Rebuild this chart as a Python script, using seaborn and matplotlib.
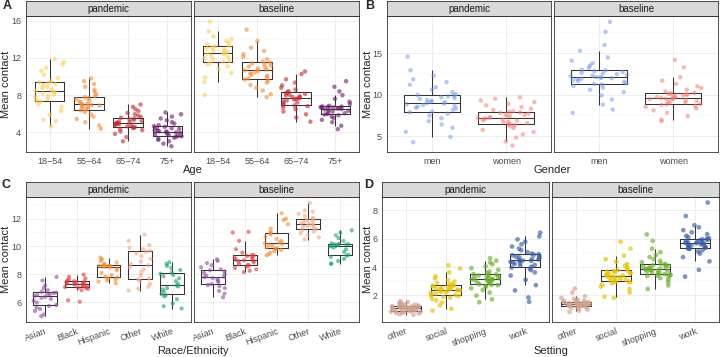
import numpy as np
import pandas as pd
import matplotlib.pyplot as plt
import seaborn as sns

# --- DATA (mean contacts) ---
PERIODS = ['pandemic', 'baseline']

# A: age
AGE_GROUPS = ['18\u221254', '55\u221264', '65\u221274', '75+']
age_pan_1854 = [4.65, 5.2, 5.35, 5.9, 6.3, 6.75, 7.05, 7.34, 7.41, 7.62, 7.8, 7.93, 8.08, 8.19, 8.31, 8.42,
                8.48, 8.63, 8.77, 8.9, 9.05, 9.17, 9.28, 9.4, 9.5, 9.85, 10.2, 10.6, 10.95, 11.3, 11.55, 11.85]
age_pan_5564 = [4.4, 4.75, 5.1, 5.45, 5.7, 5.95, 6.2, 6.37, 6.45, 6.58, 6.66, 6.74, 6.81, 6.88, 6.93, 6.98,
                7.02, 7.1, 7.21, 7.33, 7.45, 7.56, 7.68, 7.78, 7.9, 8.1, 8.35, 8.6, 8.9, 9.2, 9.5, 9.8]
age_pan_6574 = [3.05, 3.5, 3.85, 4.1, 4.25, 4.38, 4.47, 4.53, 4.58, 4.66, 4.72, 4.8, 4.86, 4.91, 4.95, 4.99,
                5.03, 5.1, 5.18, 5.25, 5.33, 5.41, 5.5, 5.58, 5.66, 5.8, 5.95, 6.1, 6.3, 6.5, 6.75, 7.0]
age_pan_75 = [2.52, 2.8, 3.05, 3.2, 3.33, 3.44, 3.52, 3.58, 3.63, 3.7, 3.78, 3.86, 3.93, 3.99, 4.04, 4.08,
              4.12, 4.2, 4.28, 4.37, 4.45, 4.53, 4.61, 4.68, 4.78, 4.95, 5.1, 5.3, 5.5, 5.7, 5.95, 6.15]
age_base_1854 = [8.03, 9.42, 9.9, 10.4, 10.8, 11.1, 11.3, 11.47, 11.54, 11.7, 11.85, 11.98, 12.1, 12.22, 12.35, 12.46,
                 12.54, 12.63, 12.72, 12.8, 12.9, 13.0, 13.1, 13.22, 13.3, 13.45, 13.62, 13.8, 14.0, 14.3, 14.86, 15.9]
age_base_5564 = [7.79, 8.1, 8.5, 8.8, 9.1, 9.35, 9.55, 9.68, 9.78, 9.92, 10.08, 10.2, 10.35, 10.46, 10.58, 10.66,
                 10.74, 10.85, 10.96, 11.07, 11.18, 11.3, 11.41, 11.5, 11.62, 11.85, 12.1, 12.4, 12.75, 13.1, 13.82, 15.04]
age_base_6574 = [5.15, 5.6, 5.95, 6.25, 6.5, 6.68, 6.82, 6.9, 6.97, 7.1, 7.22, 7.33, 7.44, 7.53, 7.61, 7.68,
                 7.74, 7.81, 7.89, 7.97, 8.05, 8.13, 8.22, 8.32, 8.42, 8.6, 8.8, 9.05, 9.35, 9.7, 10.27, 10.55]
age_base_75 = [4.35, 4.72, 5.1, 5.35, 5.55, 5.7, 5.84, 5.92, 5.98, 6.07, 6.16, 6.25, 6.33, 6.4, 6.46, 6.51,
               6.56, 6.6, 6.64, 6.68, 6.72, 6.75, 6.78, 6.8, 6.86, 7.05, 7.3, 7.6, 8.0, 8.4, 8.9, 9.5]

# B: gender
GENDERS = ['men', 'women']
gen_pan_men = [4.25, 4.9, 5.5, 6.0, 6.4, 6.8, 7.15, 7.45, 7.7, 7.88, 7.95, 8.15, 8.3, 8.42, 8.55, 8.66, 8.75, 8.84,
               8.93, 9.0, 9.06, 9.15, 9.25, 9.36, 9.47, 9.58, 9.69, 9.8, 9.9, 9.98, 10.05, 10.3, 10.6, 10.9, 11.2,
               11.5, 11.85, 12.3, 12.95, 14.6]
gen_pan_women = [3.85, 4.35, 4.8, 5.2, 5.5, 5.75, 5.98, 6.15, 6.3, 6.4, 6.47, 6.55, 6.65, 6.75, 6.84, 6.92, 7.0,
                 7.07, 7.12, 7.16, 7.2, 7.27, 7.35, 7.44, 7.53, 7.62, 7.71, 7.8, 7.87, 7.93, 8.0, 8.15, 8.3, 8.5,
                 8.7, 8.9, 9.1, 9.3, 9.5, 9.68]
gen_base_men = [7.8, 8.2, 8.8, 9.4, 9.9, 10.3, 10.6, 10.85, 11.05, 11.22, 11.3, 11.42, 11.55, 11.65, 11.75, 11.84,
                11.92, 11.99, 12.05, 12.08, 12.12, 12.2, 12.29, 12.38, 12.47, 12.56, 12.65, 12.74, 12.84, 12.93,
                13.0, 13.25, 13.5, 13.8, 14.1, 14.5, 15.3, 16.0, 17.6, 18.8]
gen_base_women = [6.8, 6.97, 7.4, 7.8, 8.1, 8.35, 8.52, 8.66, 8.77, 8.84, 8.9, 8.98, 9.07, 9.16, 9.25, 9.33, 9.4,
                  9.46, 9.51, 9.54, 9.58, 9.63, 9.7, 9.77, 9.84, 9.91, 9.98, 10.05, 10.11, 10.16, 10.22, 10.4,
                  10.6, 10.8, 11.0, 11.3, 11.7, 12.1, 13.3, 14.2]

# C: race/ethnicity
RACES = ['Asian', 'Black', 'Hispanic', 'Other', 'White']
race_pan_asian = [4.97, 5.1, 5.35, 5.5, 5.6, 5.72, 5.78, 5.95, 6.1, 6.22, 6.3, 6.38,
                  6.44, 6.5, 6.55, 6.6, 6.65, 6.68, 6.74, 6.85, 7.0, 7.2, 7.55, 7.8]
race_pan_black = [6.02, 6.12, 6.85, 6.95, 7.0, 7.04, 7.08, 7.13, 7.18, 7.22, 7.26, 7.29,
                  7.31, 7.34, 7.37, 7.41, 7.44, 7.47, 7.5, 7.55, 7.62, 7.7, 7.82, 7.97]
race_pan_hisp = [7.35, 7.48, 7.55, 7.62, 7.7, 7.76, 7.82, 7.95, 8.1, 8.28, 8.42, 8.5,
                 8.54, 8.56, 8.58, 8.6, 8.62, 8.63, 8.66, 8.75, 8.85, 8.95, 9.08, 9.2]
race_pan_other = [6.82, 6.95, 7.1, 7.3, 7.5, 7.62, 7.7, 7.9, 8.15, 8.35, 8.5, 8.65,
                  8.73, 8.9, 9.1, 9.3, 9.5, 9.62, 9.7, 9.8, 9.9, 10.1, 10.4, 10.85]
race_pan_white = [5.53, 5.7, 5.9, 6.2, 6.4, 6.5, 6.58, 6.75, 6.9, 7.0, 7.12, 7.2,
                  7.3, 7.5, 7.7, 7.85, 7.95, 8.04, 8.12, 8.3, 8.45, 8.6, 8.75, 8.86]
race_base_asian = [6.34, 6.6, 6.8, 7.0, 7.15, 7.22, 7.3, 7.42, 7.55, 7.65, 7.72, 7.78,
                   7.82, 7.9, 8.0, 8.1, 8.2, 8.28, 8.35, 8.5, 8.65, 8.8, 8.95, 9.07]
race_base_black = [8.15, 8.25, 8.35, 8.45, 8.55, 8.62, 8.68, 8.75, 8.85, 8.92, 8.97, 9.01,
                   9.05, 9.1, 9.17, 9.24, 9.3, 9.35, 9.4, 9.55, 9.8, 10.4, 11.0, 11.05]
race_base_hisp = [9.36, 9.45, 9.55, 9.65, 9.75, 9.82, 9.88, 9.95, 10.05, 10.12, 10.18, 10.22,
                  10.28, 10.4, 10.55, 10.7, 10.85, 10.98, 11.05, 11.3, 11.6, 11.9, 12.0, 12.38]
race_base_other = [10.5, 10.65, 10.8, 10.95, 11.08, 11.18, 11.24, 11.32, 11.4, 11.48, 11.54, 11.58,
                   11.62, 11.68, 11.75, 11.83, 11.9, 11.98, 12.05, 12.2, 12.35, 12.5, 12.6, 13.15]
race_base_white = [8.74, 8.78, 8.95, 9.1, 9.25, 9.33, 9.4, 9.6, 9.8, 9.92, 10.0, 10.04,
                   10.08, 10.1, 10.13, 10.15, 10.17, 10.19, 10.22, 10.4, 10.6, 10.8, 11.0, 11.16]

# D: setting
SETTINGS = ['other', 'social', 'shopping', 'work']
set_pan_other = [0.64, 0.68, 0.72, 0.75, 0.78, 0.8, 0.83, 0.85, 0.87, 0.88, 0.9, 0.93, 0.95, 0.98, 1.0, 1.02,
                 1.04, 1.05, 1.06, 1.07, 1.09, 1.1, 1.12, 1.14, 1.16, 1.18, 1.2, 1.22, 1.23, 1.24, 1.26, 1.28,
                 1.31, 1.34, 1.37, 1.4, 1.44, 1.48, 1.53, 1.58]
set_pan_social = [0.92, 1.06, 1.3, 1.5, 1.65, 1.76, 1.84, 1.9, 1.95, 1.99, 2.03, 2.08, 2.13, 2.18, 2.22, 2.26,
                  2.3, 2.33, 2.36, 2.37, 2.39, 2.42, 2.45, 2.48, 2.52, 2.56, 2.6, 2.63, 2.67, 2.7, 2.73, 2.8,
                  2.88, 2.97, 3.08, 3.2, 3.35, 3.62, 3.9, 4.12]
set_pan_shop = [1.52, 1.72, 1.98, 2.2, 2.38, 2.5, 2.6, 2.67, 2.71, 2.74, 2.78, 2.83, 2.88, 2.93, 2.98, 3.02,
                3.06, 3.09, 3.11, 3.12, 3.14, 3.17, 3.2, 3.24, 3.28, 3.32, 3.36, 3.4, 3.44, 3.47, 3.5, 3.58,
                3.68, 3.8, 3.92, 4.05, 4.2, 4.32, 4.45, 4.62]
set_pan_work = [1.55, 1.85, 2.35, 2.72, 3.1, 3.4, 3.62, 3.78, 3.88, 3.96, 4.02, 4.08, 4.15, 4.21, 4.27, 4.32,
                4.37, 4.41, 4.44, 4.46, 4.49, 4.53, 4.58, 4.63, 4.68, 4.73, 4.78, 4.83, 4.87, 4.91, 4.95, 5.05,
                5.18, 5.3, 5.45, 5.6, 5.78, 5.95, 6.16, 6.42]
set_base_other = [0.82, 0.92, 1.0, 1.07, 1.12, 1.16, 1.19, 1.22, 1.24, 1.25, 1.27, 1.29, 1.31, 1.33, 1.35, 1.36,
                  1.38, 1.39, 1.4, 1.41, 1.42, 1.43, 1.45, 1.46, 1.48, 1.49, 1.51, 1.52, 1.53, 1.54, 1.56, 1.59,
                  1.62, 1.66, 1.7, 1.75, 1.82, 1.93, 2.2, 2.48]
set_base_social = [1.82, 1.9, 2.2, 2.45, 2.62, 2.75, 2.84, 2.91, 2.95, 2.98, 3.02, 3.07, 3.12, 3.17, 3.22, 3.26,
                   3.3, 3.33, 3.36, 3.38, 3.4, 3.43, 3.47, 3.51, 3.55, 3.59, 3.63, 3.67, 3.71, 3.75, 3.79, 3.88,
                   3.98, 4.1, 4.22, 4.38, 4.55, 4.8, 5.3, 5.78]
set_base_shop = [2.45, 2.7, 2.92, 3.1, 3.22, 3.3, 3.36, 3.4, 3.43, 3.45, 3.49, 3.54, 3.59, 3.64, 3.68, 3.72,
                 3.76, 3.79, 3.81, 3.83, 3.85, 3.88, 3.92, 3.96, 4.0, 4.04, 4.08, 4.12, 4.16, 4.2, 4.24, 4.33,
                 4.44, 4.56, 4.7, 4.85, 5.05, 5.3, 5.85, 6.3]
set_base_work = [3.32, 3.8, 4.4, 4.7, 4.95, 5.1, 5.2, 5.27, 5.31, 5.33, 5.36, 5.4, 5.44, 5.48, 5.52, 5.56,
                 5.6, 5.63, 5.65, 5.66, 5.68, 5.71, 5.74, 5.77, 5.8, 5.84, 5.88, 5.92, 5.96, 5.99, 6.03, 6.1,
                 6.2, 6.32, 6.45, 6.6, 6.8, 6.95, 7.6, 8.55]

AGE_COLORS = ['#FDCF58', '#F58A37', '#C12A2E', '#6A1B69']
GENDER_COLORS = ['#6F93E8', '#F4776B']
RACE_COLORS = ['#8E4D9E', '#E0393B', '#F4892F', '#F4A582', '#1B9E77']
SETTING_COLORS = ['#D4A194', '#E6C100', '#6AAF2E', '#3A5BA9']

W, H = 720, 357
STRIP_H = 15
BORDER = '#333333'


def frac(x, y, w, h):
    # pixel box (top-left origin) -> figure fraction rect
    return [x / W, 1 - (y + h) / H, w / W, h / H]


def long_frame(groups, series):
    rows = [(g, v) for g, vals in zip(groups, series) for v in vals]
    return pd.DataFrame(rows, columns=['group', 'value'])


def draw_panel(fig, letter, letter_xy, lefts, width, top, bottom, groups, colors, data,
               ylim, major, minor, xlabel, ylab_x, rotate=False, alpha=0.6, size=3.2):
    for i, (period, series) in enumerate(zip(PERIODS, data)):
        ax = fig.add_axes(frac(lefts[i], top + STRIP_H, width, bottom - top - STRIP_H))
        df = long_frame(groups, series)
        sns.stripplot(data=df, x='group', y='value', hue='group', order=groups,
                      hue_order=groups, palette=colors, jitter=0.38, size=size,
                      alpha=alpha, linewidth=0, legend=False, ax=ax)
        sns.boxplot(data=df, x='group', y='value', order=groups, fill=False,
                    color=BORDER, width=0.75, showfliers=False, showcaps=False,
                    linewidth=0.75, ax=ax)
        ax.set_xlim(-0.6, len(groups) - 0.4)
        ax.set_ylim(*ylim)
        ax.set_yticks(major, labels=[f'{t:g}' for t in major])
        ax.set_yticks(minor, minor=True)
        ax.set_xticks(range(len(groups)))
        if rotate:
            ax.set_xticklabels(groups, rotation=20, ha='right', rotation_mode='anchor')
        else:
            ax.set_xticklabels(groups)
        ax.grid(which='major', color='#EBEBEB', linewidth=0.6)
        ax.grid(which='minor', axis='y', color='#F3F3F3', linewidth=0.35)
        ax.set_axisbelow(True)
        ax.set_xlabel('')
        ax.set_ylabel('')
        ax.set_facecolor('white')
        for sp in ax.spines.values():
            sp.set_color(BORDER)
            sp.set_linewidth(0.6)
        ax.tick_params(which='major', length=2, width=0.5, color=BORDER,
                       labelcolor='#4D4D4D', labelsize=6.5, pad=1.5)
        ax.tick_params(which='minor', length=0)
        if i == 1:
            ax.tick_params(axis='y', left=False, labelleft=False)

        sax = fig.add_axes(frac(lefts[i], top, width, STRIP_H))
        sax.set_facecolor('#D9D9D9')
        sax.set_xticks([])
        sax.set_yticks([])
        for sp in sax.spines.values():
            sp.set_color(BORDER)
            sp.set_linewidth(0.6)
        sax.text(0.5, 0.47, period, ha='center', va='center', fontsize=7, color='#1A1A1A',
                 transform=sax.transAxes)

    right = lefts[1] + width
    fig.text(letter_xy[0] / W, 1 - letter_xy[1] / H, letter, fontsize=9,
             fontweight='bold', ha='center', va='center')
    fig.text(ylab_x / W, 1 - ((top + STRIP_H + bottom) / 2) / H, 'Mean contact',
             rotation=90, fontsize=8, ha='center', va='center')
    xl_y = bottom + (18 if not rotate else 29)
    fig.text(((lefts[0] + right) / 2) / W, 1 - xl_y / H, xlabel,
             fontsize=8, ha='center', va='center')


def main():
    sns.set_theme(style='white')
    plt.rcParams['font.family'] = ['Liberation Sans', 'DejaVu Sans']
    np.random.seed(3)  # jitter positions only

    fig = plt.figure(figsize=(W / 100, H / 100), dpi=100)

    draw_panel(fig, 'A', (7, 6), (26, 194), 165, 1, 152, AGE_GROUPS, AGE_COLORS,
               [[age_pan_1854, age_pan_5564, age_pan_6574, age_pan_75],
                [age_base_1854, age_base_5564, age_base_6574, age_base_75]],
               (1.9, 16.5), [4, 8, 12, 16], [2, 6, 10, 14], 'Age', 6)
    draw_panel(fig, 'B', (370, 6), (387, 554), 164, 1, 152, GENDERS, GENDER_COLORS,
               [[gen_pan_men, gen_pan_women], [gen_base_men, gen_base_women]],
               (3.07, 19.5), [5, 10, 15], [7.5, 12.5, 17.5], 'Gender', 368, alpha=0.5)
    draw_panel(fig, 'C', (6, 185), (26, 194), 165, 182, 322, RACES, RACE_COLORS,
               [[race_pan_asian, race_pan_black, race_pan_hisp, race_pan_other, race_pan_white],
                [race_base_asian, race_base_black, race_base_hisp, race_base_other, race_base_white]],
               (4.56, 13.56), [6, 8, 10, 12], [5, 7, 9, 11, 13], 'Race/Ethnicity', 6,
               rotate=True, alpha=0.6, size=3)
    draw_panel(fig, 'D', (369, 185), (382, 552), 167, 182, 322, SETTINGS, SETTING_COLORS,
               [[set_pan_other, set_pan_social, set_pan_shop, set_pan_work],
                [set_base_other, set_base_social, set_base_shop, set_base_work]],
               (0.12, 8.94), [2, 4, 6, 8], [1, 3, 5, 7], 'Setting', 368,
               rotate=True, alpha=0.65, size=3.4)

    fig.savefig('out.png', dpi=100)


if __name__ == '__main__':
    main()
